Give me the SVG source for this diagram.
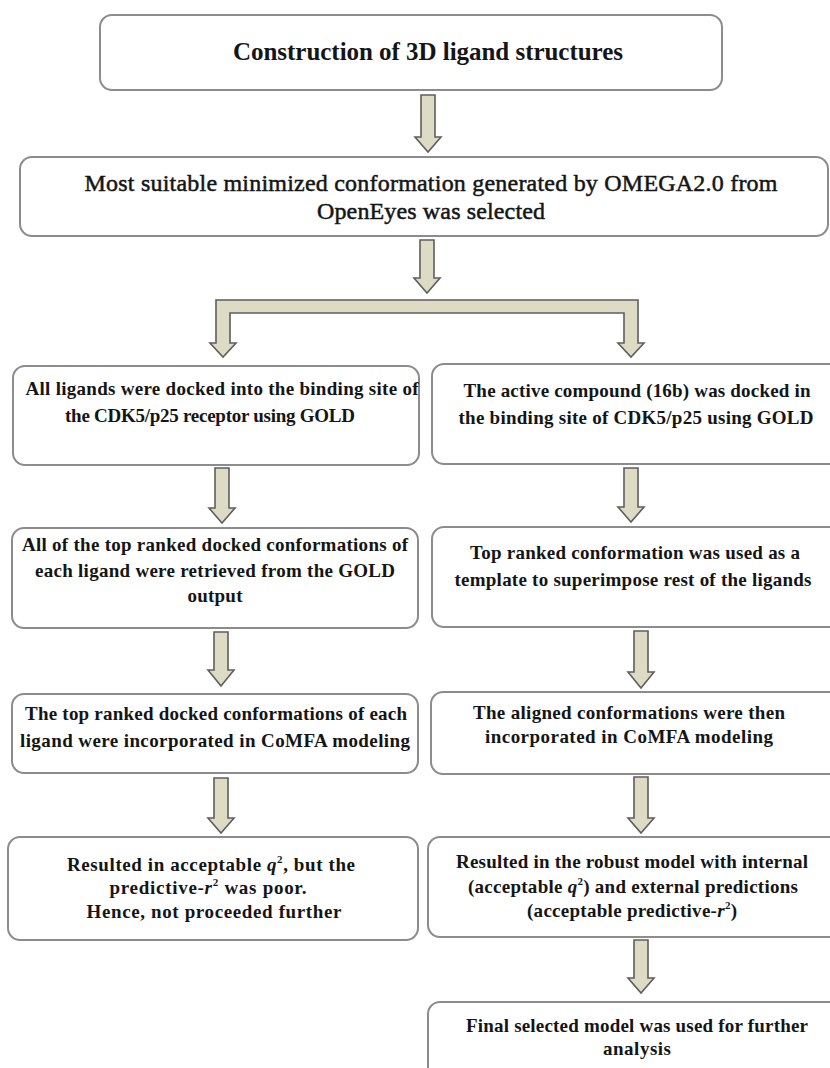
<svg xmlns="http://www.w3.org/2000/svg" width="830" height="1068" viewBox="0 0 830 1068">
<style>
.box{fill:#ffffff;stroke:#8c8c8c;stroke-width:2}
.arr{fill:#dedbc5;stroke:#5e5e5e;stroke-width:1.6;stroke-linejoin:miter}
text{font-family:"Liberation Serif","Times New Roman",serif;fill:#151515;text-anchor:middle}
.t{font-size:25px;font-weight:bold}
.r{font-size:24px;stroke:#151515;stroke-width:0.5}
.b{font-size:19px;font-weight:bold}
.i{font-style:italic}
.s{font-size:11px}
</style>
<rect width="830" height="1068" fill="#ffffff"/>
<g id="connectors">
<polygon class="arr" points="421,95 435,95 435,137 441,137 428,152 415,137 421,137"/>
<polygon class="arr" points="420,240 434,240 434,278 440,278 427,293 414,278 420,278"/>
<path class="arr" d="M216,300 L638,300 L638,343 L644,343 L631,357 L618,343 L624,343 L624,313 L230,313 L230,343 L236,343 L223,357 L210,343 L216,343 Z"/>
<polygon class="arr" points="215,468 229,468 229,508 235,508 222,523 209,508 215,508"/>
<polygon class="arr" points="214,632 228,632 228,670 234,670 221,686 208,670 214,670"/>
<polygon class="arr" points="214,778 228,778 228,818 234,818 221,833 208,818 214,818"/>
<polygon class="arr" points="624,468 638,468 638,507 644,507 631,522 618,507 624,507"/>
<polygon class="arr" points="634,631 648,631 648,672 654,672 641,688 628,672 634,672"/>
<polygon class="arr" points="634,777 648,777 648,818 654,818 641,833 628,818 634,818"/>
<polygon class="arr" points="634,940 648,940 648,978 654,978 641,993 628,978 634,978"/>
</g>
<g id="n1">
<rect class="box" x="100" y="15" width="622" height="75" rx="12"/>
<text class="t" x="428" y="60" textLength="390">Construction of 3D ligand structures</text>
</g>
<g id="n2">
<rect class="box" x="20" y="157" width="808" height="79" rx="12"/>
<text class="r" x="431" y="191" textLength="693">Most suitable minimized conformation generated by OMEGA2.0 from</text>
<text class="r" x="431" y="219" textLength="228">OpenEyes was selected</text>
</g>
<g id="n3L">
<rect class="box" x="13" y="366" width="406" height="99" rx="12"/>
<text class="b" x="222" y="395" textLength="393">All ligands were docked into the binding site of</text>
<text class="b" x="210" y="422" textLength="290">the CDK5/p25 receptor using GOLD</text>
</g>
<g id="n3R">
<rect class="box" x="432" y="364" width="410" height="100" rx="12"/>
<text class="b" x="637" y="397" textLength="347">The active compound (16b) was docked in</text>
<text class="b" x="636" y="424" textLength="355">the binding site of CDK5/p25 using GOLD</text>
</g>
<g id="n4L">
<rect class="box" x="12" y="528" width="406" height="100" rx="12"/>
<text class="b" x="215" y="551" textLength="386">All of the top ranked docked conformations of</text>
<text class="b" x="215" y="577" textLength="360">each ligand were retrieved from the GOLD</text>
<text class="b" x="215" y="602" textLength="55">output</text>
</g>
<g id="n4R">
<rect class="box" x="432" y="527" width="410" height="100" rx="12"/>
<text class="b" x="635" y="559" textLength="330">Top ranked conformation was used as a</text>
<text class="b" x="633" y="586" textLength="357">template to superimpose rest of the ligands</text>
</g>
<g id="n5L">
<rect class="box" x="12" y="694" width="406" height="79" rx="12"/>
<text class="b" x="216" y="720" textLength="382">The top ranked docked conformations of each</text>
<text class="b" x="215" y="747" textLength="390">ligand were incorporated in CoMFA modeling</text>
</g>
<g id="n5R">
<rect class="box" x="431" y="692" width="411" height="82" rx="12"/>
<text class="b" x="629" y="719" textLength="312">The aligned conformations were then</text>
<text class="b" x="629" y="743" textLength="288">incorporated in CoMFA modeling</text>
</g>
<g id="n6L">
<rect class="box" x="8" y="837" width="410" height="103" rx="12"/>
<text class="b" x="211" y="871" textLength="288">Resulted in acceptable <tspan class="i">q</tspan><tspan class="s" dy="-8">2</tspan><tspan dy="8">, but the</tspan></text>
<text class="b" x="208" y="894" textLength="197">predictive-<tspan class="i">r</tspan><tspan class="s" dy="-8">2</tspan><tspan dy="8"> was poor.</tspan></text>
<text class="b" x="214" y="918" textLength="255">Hence, not proceeded further</text>
</g>
<g id="n6R">
<rect class="box" x="428" y="837" width="414" height="100" rx="12"/>
<text class="b" x="632" y="868" textLength="352">Resulted in the robust model with internal</text>
<text class="b" x="633" y="893" textLength="330">(acceptable <tspan class="i">q</tspan><tspan class="s" dy="-8">2</tspan><tspan dy="8">) and external predictions</tspan></text>
<text class="b" x="632" y="917" textLength="210">(acceptable predictive-<tspan class="i">r</tspan><tspan class="s" dy="-8">2</tspan><tspan dy="8">)</tspan></text>
</g>
<g id="n7R">
<rect class="box" x="428" y="1002" width="414" height="90" rx="12"/>
<text class="b" x="637" y="1032" textLength="342">Final selected model was used for further</text>
<text class="b" x="637" y="1055" textLength="68">analysis</text>
</g>
</svg>
